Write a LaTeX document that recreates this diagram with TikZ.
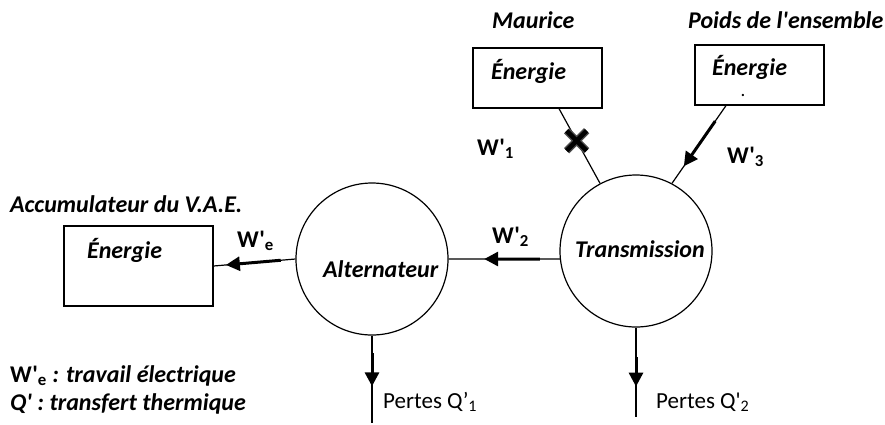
\documentclass[tikz,border=0pt]{standalone}
\usepackage{fontspec}
\setmainfont{Carlito}[Ligatures=TeXOff]
\usetikzlibrary{arrows.meta}
\newcommand{\wlab}[1]{{\upshape W'\textsubscript{#1}}}
\begin{document}
\begin{tikzpicture}[x=1pt,y=-1pt,
  conv/.style={circle,draw,line width=1.2pt,minimum size=152pt,inner sep=0pt},
  store/.style={rectangle,draw,line width=1.2pt,minimum width=129pt,minimum height=60pt,inner sep=0pt},
  link/.style={line width=1.2pt},
  flow/.style={line width=3pt,-{Triangle[length=14pt,width=14pt]}},
  lbl/.style={font=\fontsize{24}{28}\selectfont\bfseries\itshape,inner sep=0pt,anchor=base west},
  plain/.style={font=\fontsize{23}{27}\selectfont,inner sep=0pt,anchor=base west}]
\useasboundingbox (0,0) rectangle (885,424);

% converters
\node[conv] (alt) at (372,259) {};
\node[conv] (trans) at (636,251) {};
\node[lbl] at (323,277) {Alternateur};
\node[lbl] at (575,257) {Transmission};

% energy stores
\node[store,minimum width=149pt,minimum height=80pt] (acc) at (138.5,266) {};
\node[store] (maur) at (537.5,78) {};
\node[store] (poids) at (759.5,75) {};
\node[lbl] at (87,258) {Énergie};
\node[lbl] at (491,79) {Énergie};
\node[lbl] at (712,75) {Énergie};
\node[inner sep=0pt,font=\fontsize{19}{22}\selectfont] (dot) at (743,95) {.};

% titles
\node[lbl] at (10,212) {Accumulateur du V.A.E.};
\node[lbl] at (492,28) {Maurice};
\node[lbl] at (688,28) {Poids de l'ensemble};

% transfers
\draw[link] (trans.186) -- (alt.east)
  coordinate[pos=0.18] (w2a) coordinate[pos=0.68] (w2b);
\draw[flow] (w2a) -- (w2b);
\node[lbl] at (492,243) {\wlab{2}};

\draw[link] (alt.west) -- (acc.east)
  coordinate[pos=0.18] (wea) coordinate[pos=0.85] (web);
\draw[flow] (wea) -- (web);
\node[lbl] at (237,247) {\wlab{e}};

\draw[link] ([xshift=21.5pt]maur.south) -- (trans.118)
  coordinate[pos=0.43] (x1);
\begin{scope}[shift={(x1)}]
  \draw[line width=7.5pt,gray!60!black] (-10,-10) -- (10,10) (-10,10) -- (10,-10);
  \draw[line width=4.5pt] (-10,-10) -- (10,10) (-10,10) -- (10,-10);
\end{scope}
\node[lbl] at (477,155) {\wlab{1}};

\draw[link] ([xshift=-33.5pt]poids.south) -- (trans.62)
  coordinate[pos=0.2] (w3a) coordinate[pos=0.78] (w3b);
\draw[flow] (w3a) -- (w3b);
\node[lbl] at (727,163) {\wlab{3}};

% losses
\coordinate (q1) at (alt.south |- 0,423);
\draw[link] (alt.south) -- (q1) coordinate[pos=0.2] (q1a) coordinate[pos=0.58] (q1b);
\draw[flow] (q1a) -- (q1b);
\node[plain] at (383,408) {Pertes Q’\textsubscript{1}};

\coordinate (q2) at (trans.south |- 0,417);
\draw[link] (trans.south) -- (q2) coordinate[pos=0.33] (q2a) coordinate[pos=0.66] (q2b);
\draw[flow] (q2a) -- (q2b);
\node[plain] at (656,408) {Pertes Q'\textsubscript{2}};

% legend
\node[lbl] at (10,382) {\wlab{e} : travail électrique};
\node[lbl] at (10,410) {Q' : transfert thermique};
\end{tikzpicture}
\end{document}
